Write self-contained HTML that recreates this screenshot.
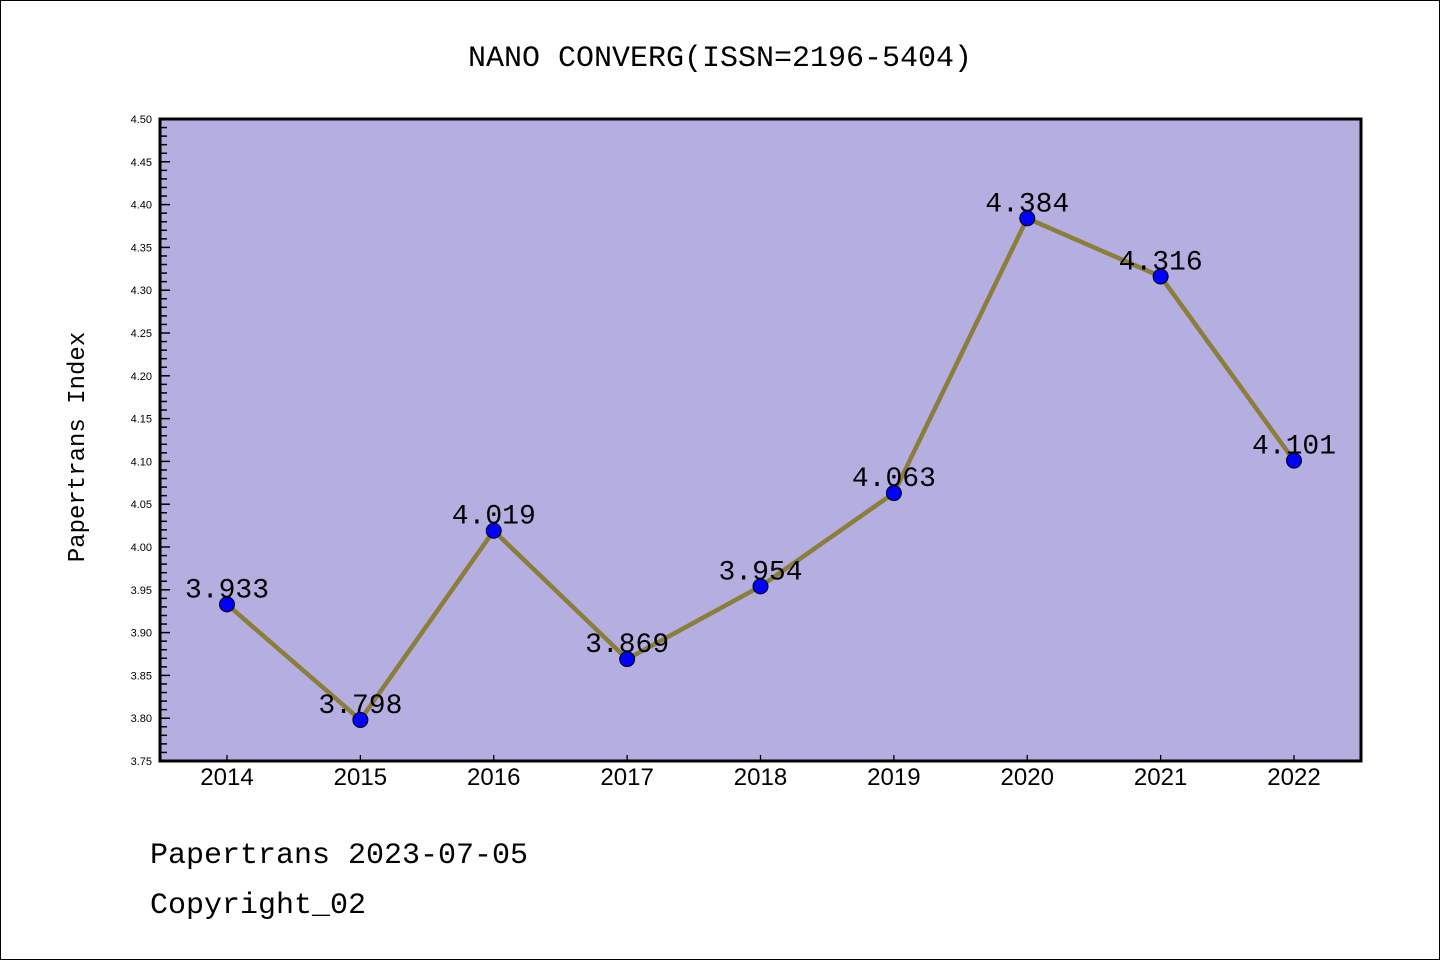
<!DOCTYPE html>
<html><head><meta charset="utf-8"><style>
html,body{margin:0;padding:0;background:#fff;}
svg{display:block;}
text{font-family:"Liberation Sans","DejaVu Sans",sans-serif;}
.mono{font-family:"Liberation Mono","WenQuanYi Zen Hei",monospace;}
</style></head><body>
<svg id="chart" width="1440" height="960">
<rect x="0.5" y="0.5" width="1439" height="959" fill="#fff" stroke="#000"/>
<text x="720" y="66" text-anchor="middle" font-size="30" class="mono">NANO CONVERG(ISSN=2196-5404)</text>
<rect x="160" y="119" width="1201" height="642" fill="#b5aee1"/>
<g id="axes"></g>
<g id="series"></g>
<rect x="160" y="119" width="1201" height="642" fill="none" stroke="#000" stroke-width="3"/>
<text transform="translate(84,447) rotate(-90)" text-anchor="middle" font-size="24" class="mono">Papertrans Index</text>
<text x="150" y="863" font-size="30" class="mono">Papertrans 2023-07-05</text>
<text x="150" y="913" font-size="30" class="mono">Copyright_02</text>
</svg>
<script>
const years = ["2014","2015","2016","2017","2018","2019","2020","2021","2022"];
const values = [3.933,3.798,4.019,3.869,3.954,4.063,4.384,4.316,4.101];
const yTicks = ["3.75","3.80","3.85","3.90","3.95","4.00","4.05","4.10","4.15","4.20","4.25","4.30","4.35","4.40","4.45","4.50"];
const NS="http://www.w3.org/2000/svg";
const L=160,R=1361,T=119,B=761,YMIN=3.75,YMAX=4.5;
const x=i=>227+i*(1294-227)/(years.length-1);
const y=v=>B-(v-YMIN)/(YMAX-YMIN)*(B-T);
function mk(tag,attrs,parent){const e=document.createElementNS(NS,tag);for(const k in attrs)e.setAttribute(k,attrs[k]);parent.appendChild(e);return e;}
const ax=document.getElementById('axes'), se=document.getElementById('series');
for(let k=0;k<=75;k++){const v=YMIN+k*0.01;const yy=y(v);const major=k%5===0;
 const t=mk('line',{x1:L,x2:L+(major?10:7),y1:yy,y2:yy,stroke:'#000','stroke-width':1.5},ax);
 
 }
yTicks.forEach(s=>{const t=mk('text',{x:152,y:y(parseFloat(s))+4,'text-anchor':'end','font-size':11},ax);t.textContent=s;
 
 });
years.forEach((s,i)=>{const l=mk('line',{x1:x(i),x2:x(i),y1:B,y2:B-6,stroke:'#000','stroke-width':1.3},ax);
 
 
 const t=mk('text',{x:x(i),y:785,'text-anchor':'middle','font-size':24},ax);t.textContent=s;
 
 });
const pl=mk('polyline',{points:values.map((v,i)=>x(i)+','+y(v)).join(' '),fill:'none',stroke:'#8b7d3a','stroke-width':4.5},se);


values.forEach((v,i)=>{const c=mk('circle',{cx:x(i),cy:y(v),r:7.5,fill:'#0000ff',stroke:'#000','stroke-width':1},se);
 
 
 const t=mk('text',{x:x(i),y:y(v)-7,'text-anchor':'middle','font-size':28,class:'mono'},se);t.textContent=v.toFixed(3);
 
 });
</script>
</body></html>
